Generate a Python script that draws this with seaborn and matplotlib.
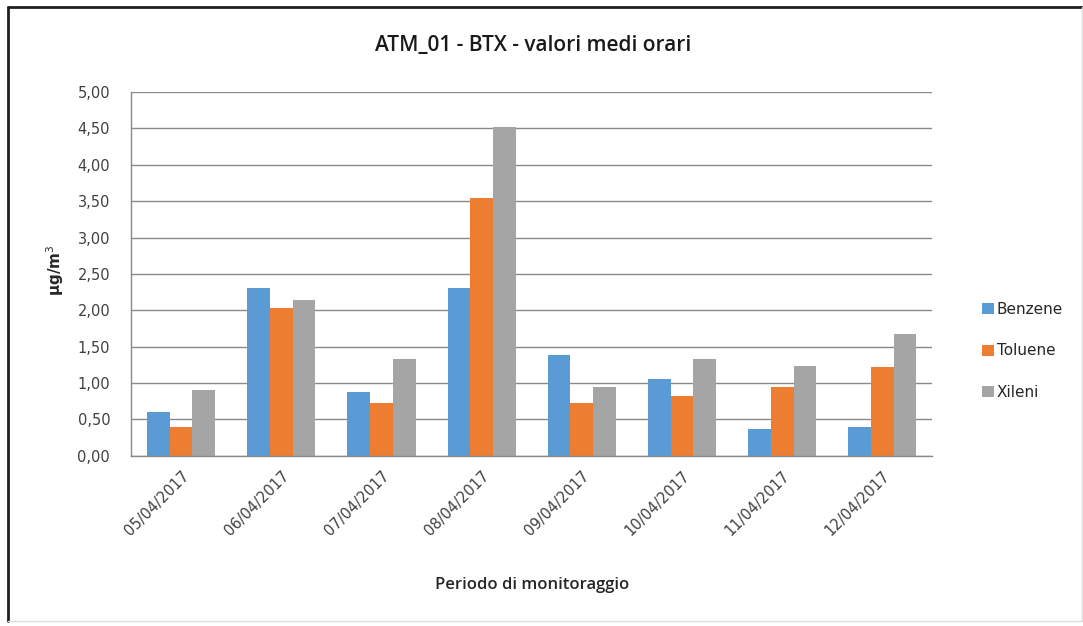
import matplotlib
matplotlib.use("Agg")
import matplotlib.pyplot as plt
import matplotlib.ticker as mticker
from matplotlib.lines import Line2D
import seaborn as sns
import pandas as pd

dates = ["05/04/2017", "06/04/2017", "07/04/2017", "08/04/2017",
         "09/04/2017", "10/04/2017", "11/04/2017", "12/04/2017"]
benzene = [0.60, 2.30, 0.87, 2.30, 1.39, 1.06, 0.37, 0.40]
toluene = [0.40, 2.03, 0.72, 3.54, 0.73, 0.82, 0.95, 1.22]
xileni = [0.91, 2.14, 1.33, 4.52, 0.95, 1.33, 1.24, 1.68]
series = ["Benzene", "Toluene", "Xileni"]
colors = ["#5B9BD5", "#ED7D31", "#A5A5A5"]

df = pd.DataFrame({"Data": dates * 3,
                   "Serie": [s for s in series for _ in dates],
                   "Valore": benzene + toluene + xileni})

sns.set_theme(style="white")
plt.rcParams['font.family'] = ['DejaVu Sans']

fig = plt.figure(figsize=(10.83, 6.26), dpi=100)
ax = fig.add_axes([0.121, 0.272, 0.740, 0.581])

sns.barplot(data=df, x="Data", y="Valore", hue="Serie", palette=colors,
            width=0.68, gap=0, saturation=1, linewidth=0, edgecolor="none",
            ax=ax, legend=True)

ax.set_ylim(0, 5)
ax.set_xlim(-0.5, 7.5)
ax.yaxis.set_major_locator(mticker.MultipleLocator(0.5))
ax.yaxis.set_major_formatter(mticker.FuncFormatter(lambda v, p: f"{v:.2f}".replace(".", ",")))
ax.grid(axis="y", color="#8a8a8a", linewidth=1.0)
ax.set_axisbelow(True)
for s in ["top", "right"]:
    ax.spines[s].set_visible(False)
for s in ["left", "bottom"]:
    ax.spines[s].set_color("#8a8a8a")
    ax.spines[s].set_linewidth(1.0)
ax.tick_params(axis="y", labelsize=10.5, colors="#404040", length=0, pad=15)
ax.tick_params(axis="x", labelsize=10.5, colors="#404040", length=0, pad=9)
plt.setp(ax.get_xticklabels(), rotation=45, ha="right", va="top", rotation_mode="anchor")

ax.set_xlabel("")
ax.set_ylabel("")
fig.text(0.491, 0.066, "Periodo di monitoraggio", ha="center", va="center",
         family=["Open Sans", "DejaVu Sans"], fontsize=12, fontweight="semibold",
         color="#262626")
fig.text(0.051, 0.569, "μg/m$^3$", ha="center", va="center", rotation=90,
         fontsize=11, fontweight="bold", color="#262626")
fig.text(0.492, 0.928, "ATM_01 - BTX - valori medi orari", ha="center", va="center",
         family=["Open Sans", "DejaVu Sans"], fontsize=15, fontweight="semibold",
         color="#1a1a1a")

handles, labels = ax.get_legend_handles_labels()
leg = ax.legend(handles, labels, loc="center left", bbox_to_anchor=(1.045, 0.288),
                frameon=False, fontsize=11, handlelength=0.75, handleheight=0.75,
                handletextpad=0.2, labelspacing=1.75, title=None)
for t in leg.get_texts():
    t.set_color("#262626")

fig.add_artist(Line2D([0.007, 0.007], [0.008, 0.989], color="#202020", lw=2))
fig.add_artist(Line2D([0.007, 0.999], [0.989, 0.989], color="#202020", lw=2))
fig.add_artist(Line2D([0.999, 0.999], [0.008, 0.989], color="#dddddd", lw=1))
fig.add_artist(Line2D([0.007, 0.999], [0.008, 0.008], color="#dddddd", lw=1))

fig.savefig("out.png", dpi=100)
